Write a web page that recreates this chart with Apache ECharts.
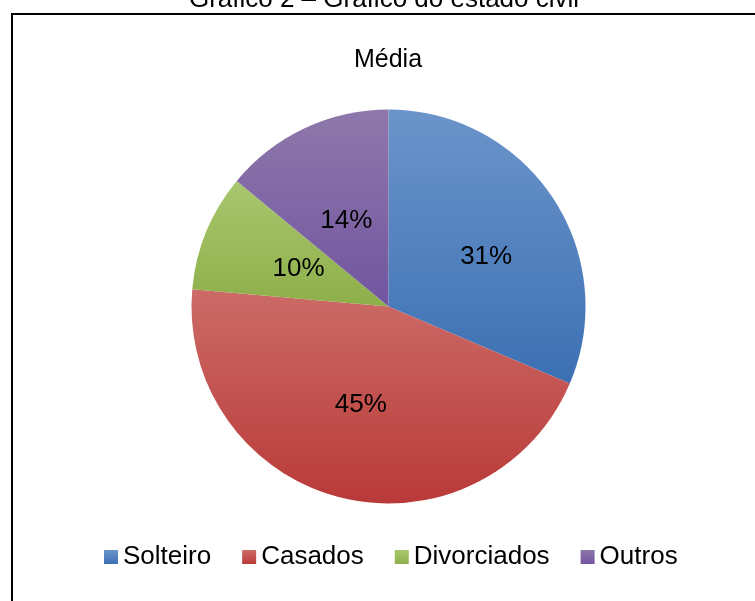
<!DOCTYPE html>
<html>
<head>
<meta charset="utf-8">
<script src="https://cdn.jsdelivr.net/npm/echarts@6/dist/echarts.min.js"></script>
<style>
  html, body { margin: 0; padding: 0; background: #fff; }
  #main { width: 755px; height: 601px; }
</style>
</head>
<body>
<div id="main"></div>
<script>
const categories = ['Solteiro', 'Casados', 'Divorciados', 'Outros'];
const values = [31.4, 45.0, 9.6, 14.0];
// top / bottom colour of each slice gradient
const colorsTop = ['#6b94ca', '#cc6b67', '#a9c76f', '#8f78ab'];
const colorsBottom = ['#3c70b3', '#b93a38', '#8daf49', '#7155a0'];
// small nudges so the percent labels sit where the original has them
const labelOffsets = [[13, 6], [-3, 0], [4, 1], [1, 6]];

window.onload = function () {
  const chartDom = document.getElementById('main');
  const myChart = echarts.init(chartDom);

  const data = categories.map(function (name, i) {
    return {
      name: name,
      value: values[i],
      label: { offset: labelOffsets[i] },
      itemStyle: {
        color: new echarts.graphic.LinearGradient(0, 0, 0, 1, [
          { offset: 0, color: colorsTop[i] },
          { offset: 1, color: colorsBottom[i] }
        ])
      }
    };
  });

  const font = 'Liberation Sans, Arial, sans-serif';

  const option = {
    animation: false,
    backgroundColor: '#fff',
    graphic: [
      {
        type: 'rect',
        shape: { x: 12, y: 14, width: 800, height: 700 },
        style: { fill: 'none', stroke: '#000', lineWidth: 2 },
        silent: true
      },
      {
        type: 'text',
        x: 384,
        y: -13,
        style: {
          text: 'Gráfico 2 – Gráfico do estado civil',
          font: '26px ' + font,
          fill: '#000',
          align: 'center',
          verticalAlign: 'top'
        }
      },
      {
        type: 'text',
        x: 388,
        y: 48,
        style: {
          text: 'Média',
          font: '25px ' + font,
          fill: '#000',
          align: 'center',
          verticalAlign: 'top'
        }
      }
    ],
    legend: {
      data: categories,
      left: 99,
      top: 539,
      itemWidth: 14,
      itemHeight: 14,
      itemGap: 31,
      icon: 'rect',
      textStyle: { fontFamily: font, fontSize: 26, color: '#000' }
    },
    series: [
      {
        type: 'pie',
        center: [388.5, 306.5],
        radius: 197,
        startAngle: 90,
        clockwise: true,
        data: data,
        label: {
          position: 'inside',
          fontFamily: font,
          fontSize: 26,
          color: '#000',
          formatter: function (p) { return Math.round(p.percent) + '%'; }
        },
        labelLine: { show: false },
        itemStyle: { borderWidth: 0 },
        emphasis: { disabled: true }
      }
    ]
  };

  option && myChart.setOption(option);
};
</script>
</body>
</html>
